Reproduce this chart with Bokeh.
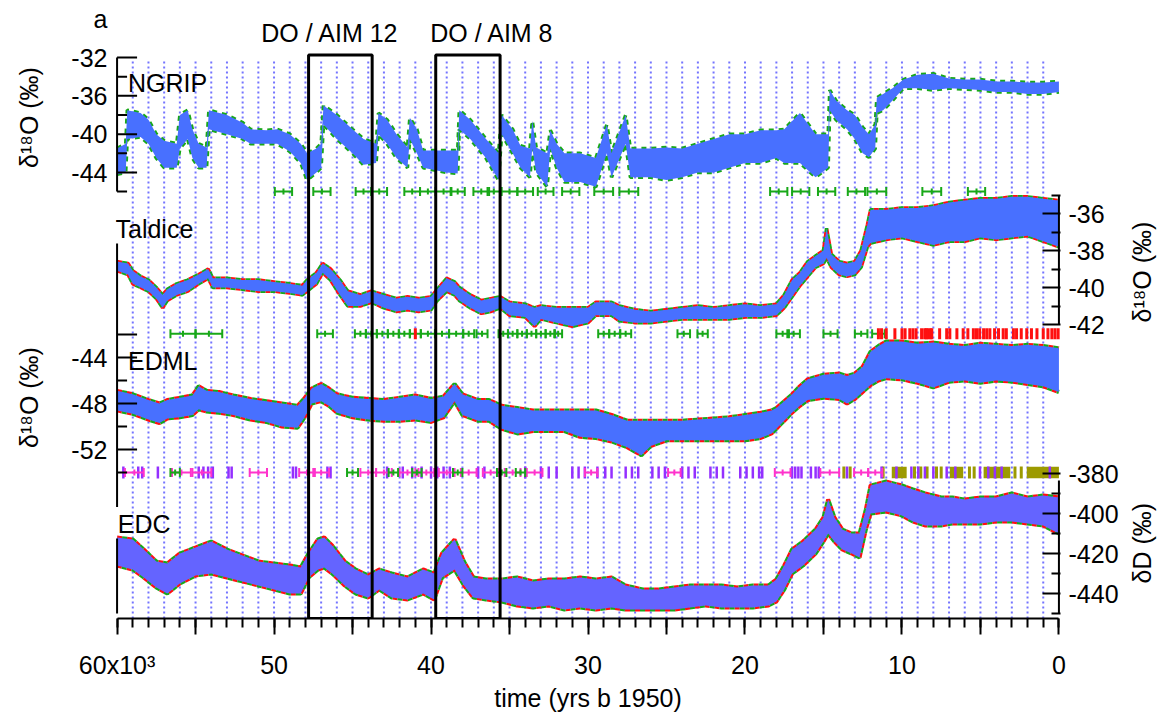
import numpy as np
from bokeh.plotting import figure
from bokeh.models import Range1d, LinearAxis, FixedTicker, CustomJSTickFormatter, Label
from bokeh.embed import file_html
from bokeh.resources import INLINE

# ---------------- data ----------------
# time axis in kyr before 1950
ngrip_age = [60.0, 59.45, 59.35, 58.5, 58.0, 57.5, 57.0, 56.2, 56.0, 55.5,
             55.2, 54.8, 54.3, 54.15, 53.0, 52.0, 51.5, 50.5, 49.8, 49.0,
             48.3, 47.9, 47.3, 47.0, 46.85, 46.0, 45.0, 44.3, 43.5, 43.35,
             42.8, 42.2, 41.5, 41.35, 40.9, 40.5, 39.0, 38.3, 38.2, 37.5,
             36.5, 35.7, 35.5, 34.8, 34.3, 33.7, 33.55, 33.3, 32.6, 32.4,
             32.0, 31.5, 30.5, 29.5, 28.8, 28.5, 27.6, 27.3, 26.0, 25.0,
             24.0, 23.0, 22.0, 21.0, 20.0, 19.0, 18.0, 17.5, 16.5, 15.5,
             14.7, 14.6, 14.2, 13.5, 13.0, 12.5, 12.1, 11.7, 11.6, 11.2,
             10.6, 9.9, 9.0, 8.0, 7.0, 6.0, 5.0, 4.0, 3.0, 2.0,
             1.0, 0.0]
ngrip_hi = [-41.5, -41.0, -37.5, -37.8, -38.5, -40.0, -40.7, -41.0, -38.0, -37.5,
            -39.5, -41.0, -41.4, -37.5, -38.0, -38.8, -39.5, -39.6, -39.5, -40.0,
            -41.0, -42.0, -41.5, -41.0, -37.0, -38.0, -39.5, -40.5, -41.0, -37.8,
            -38.5, -40.0, -41.4, -38.3, -39.5, -41.7, -41.7, -41.7, -37.5, -38.5,
            -40.5, -42.0, -38.0, -39.5, -41.2, -41.5, -38.6, -41.4, -42.0, -39.6,
            -41.0, -42.0, -42.0, -42.5, -39.0, -42.0, -38.0, -41.5, -41.5, -41.4,
            -41.5, -41.0, -40.5, -40.0, -40.0, -39.6, -39.6, -39.5, -37.8, -40.0,
            -40.0, -35.4, -36.5, -37.5, -38.0, -39.3, -40.0, -39.0, -36.2, -35.8,
            -35.2, -34.3, -33.8, -33.7, -34.2, -34.3, -34.3, -34.5, -34.5, -34.6,
            -34.6, -34.5]
ngrip_lo = [-44.2, -44.0, -40.5, -40.3, -41.0, -42.5, -43.5, -43.5, -41.5, -40.5,
            -42.5, -43.5, -43.5, -39.5, -40.0, -40.5, -41.0, -41.0, -41.0, -41.8,
            -43.0, -44.8, -44.0, -43.5, -39.0, -40.5, -42.0, -43.2, -43.0, -40.0,
            -41.0, -42.5, -43.5, -40.5, -42.0, -43.5, -44.0, -44.1, -39.5, -40.5,
            -42.5, -44.8, -40.0, -42.0, -43.5, -44.5, -41.5, -44.0, -45.5, -41.5,
            -43.5, -45.0, -45.0, -45.5, -42.0, -44.5, -41.0, -44.5, -44.5, -44.8,
            -44.5, -44.0, -44.0, -43.5, -43.0, -43.0, -42.5, -43.0, -43.0, -44.5,
            -43.5, -37.5, -38.5, -39.5, -40.5, -42.0, -42.4, -41.5, -37.8, -37.5,
            -36.5, -35.2, -35.2, -35.4, -35.2, -35.3, -35.4, -35.6, -35.6, -35.8,
            -35.8, -35.6]

taldice_age = [60.0, 59.3, 59.0, 58.5, 58.0, 57.5, 57.1, 56.8, 56.2, 55.5,
               54.8, 54.2, 53.9, 53.0, 52.0, 51.0, 50.0, 49.0, 48.2, 47.9,
               47.3, 46.9, 46.4, 45.8, 45.3, 44.5, 43.8, 43.0, 42.2, 41.5,
               40.8, 40.0, 39.6, 39.0, 38.5, 38.2, 37.5, 36.8, 36.2, 35.6,
               35.0, 34.0, 33.4, 33.0, 32.0, 31.0, 30.0, 29.5, 28.5, 28.0,
               27.0, 26.0, 25.0, 24.0, 23.0, 22.0, 21.0, 20.0, 19.0, 18.0,
               17.5, 17.0, 16.5, 16.0, 15.5, 15.0, 14.8, 14.5, 14.0, 13.5,
               13.0, 12.6, 12.2, 12.0, 11.0, 10.0, 9.0, 8.0, 7.0, 6.0,
               5.0, 4.0, 3.0, 2.0, 1.0, 0.0]
taldice_hi = [-38.6, -38.7, -39.1, -39.4, -39.6, -40.0, -40.4, -40.1, -39.8, -39.6,
              -39.3, -39.0, -39.5, -39.5, -39.6, -39.6, -39.7, -39.8, -39.9, -39.6,
              -39.2, -38.7, -39.0, -39.6, -40.2, -40.4, -40.2, -40.4, -40.6, -40.5,
              -40.6, -40.5, -40.1, -39.5, -39.7, -40.0, -40.4, -40.7, -40.6, -40.5,
              -40.8, -40.9, -41.1, -41.0, -41.1, -41.1, -41.1, -40.8, -40.8, -41.0,
              -41.2, -41.3, -41.2, -41.1, -41.0, -41.1, -41.0, -40.9, -41.0, -40.9,
              -40.4, -39.6, -39.2, -38.6, -38.3, -38.0, -36.8, -38.2, -38.6, -38.7,
              -38.6, -38.0, -36.6, -35.8, -35.8, -35.7, -35.7, -35.6, -35.4, -35.3,
              -35.2, -35.2, -35.1, -35.1, -35.2, -35.3]
taldice_lo = [-39.1, -39.3, -39.8, -40.0, -40.2, -40.6, -41.1, -40.7, -40.4, -40.2,
              -39.8, -39.5, -40.0, -40.0, -40.1, -40.2, -40.2, -40.3, -40.4, -40.2,
              -39.8, -39.2, -39.6, -40.4, -41.0, -41.0, -40.8, -41.1, -41.3, -41.2,
              -41.3, -41.2, -40.7, -40.2, -40.4, -40.7, -41.1, -41.4, -41.3, -41.1,
              -41.5, -41.6, -42.1, -41.7, -41.9, -42.1, -41.9, -41.5, -41.5, -41.8,
              -41.9, -41.9, -41.8, -41.7, -41.7, -41.7, -41.7, -41.6, -41.6, -41.5,
              -41.1, -40.5, -39.9, -39.4, -38.9, -38.7, -38.4, -38.9, -39.3, -39.4,
              -39.3, -38.9, -37.8, -37.6, -37.4, -37.3, -37.5, -37.7, -37.5, -37.5,
              -37.3, -37.4, -37.3, -37.2, -37.5, -37.8]

edml_age = [60.0, 59.0, 58.0, 57.3, 56.8, 56.0, 55.2, 54.8, 54.3, 53.5,
            52.6, 51.5, 50.5, 49.5, 48.5, 48.1, 47.6, 47.0, 46.5, 46.0,
            45.0, 44.0, 43.0, 42.0, 41.0, 40.0, 39.2, 38.5, 38.0, 37.0,
            36.3, 35.5, 34.5, 33.5, 32.5, 31.5, 30.5, 29.5, 28.5, 27.5,
            26.6, 26.0, 25.0, 24.0, 23.0, 22.0, 21.0, 20.0, 19.0, 18.3,
            18.0, 17.5, 17.0, 16.5, 16.0, 15.0, 14.0, 13.5, 13.0, 12.5,
            12.0, 11.5, 11.0, 10.0, 9.0, 8.0, 7.0, 6.0, 5.0, 4.0,
            3.0, 2.0, 1.0, 0.0]
edml_hi = [-46.9, -47.2, -47.7, -48.0, -47.7, -47.5, -47.3, -46.5, -46.9, -47.0,
           -47.3, -47.6, -47.8, -48.0, -48.2, -47.6, -46.7, -46.3, -46.7, -47.2,
           -47.5, -47.6, -47.7, -47.5, -47.3, -47.6, -47.4, -46.3, -47.2, -47.7,
           -47.7, -48.2, -48.4, -48.6, -48.6, -48.6, -48.6, -48.6, -49.0, -49.5,
           -49.5, -49.5, -49.5, -49.5, -49.4, -49.3, -49.2, -49.0, -48.8, -48.6,
           -48.4, -47.8, -47.2, -46.5, -45.9, -45.5, -45.4, -45.6, -45.4, -44.8,
           -43.5, -43.0, -42.6, -42.6, -42.8, -42.7, -42.9, -43.0, -42.8, -42.9,
           -43.0, -42.9, -43.0, -43.2]
edml_lo = [-48.6, -48.9, -49.4, -49.7, -49.3, -49.2, -49.0, -48.5, -48.7, -48.8,
           -49.0, -49.4, -49.6, -50.0, -50.1, -49.3, -48.0, -47.8, -48.2, -48.8,
           -49.2, -49.4, -49.5, -49.5, -49.4, -49.6, -49.2, -47.8, -49.0, -49.5,
           -49.5, -50.2, -50.6, -50.4, -50.4, -50.4, -50.9, -51.0, -51.3, -51.8,
           -52.5, -51.7, -51.2, -51.2, -51.2, -51.2, -51.2, -51.2, -51.0, -50.6,
           -50.2, -49.5, -48.8, -48.2, -47.7, -47.5, -47.6, -48.0, -47.6, -47.0,
           -46.4, -46.0, -45.8, -45.9, -46.2, -46.6, -46.1, -46.0, -46.2, -46.0,
           -46.1, -46.3, -46.5, -47.0]

edc_age = [60.0, 59.0, 58.3, 57.5, 56.8, 56.0, 55.0, 54.0, 53.0, 52.0,
           51.0, 50.0, 49.0, 48.3, 47.8, 47.2, 46.8, 46.3, 45.5, 44.8,
           44.0, 43.3, 42.5, 41.5, 40.5, 39.8, 39.3, 38.5, 37.9, 37.3,
           36.5, 35.5, 34.5, 33.5, 32.5, 31.5, 30.5, 29.5, 28.5, 27.6,
           26.5, 25.5, 24.5, 23.5, 22.5, 21.5, 20.5, 19.5, 18.5, 18.0,
           17.5, 17.0, 16.3, 15.5, 15.0, 14.7, 14.3, 13.8, 13.2, 12.7,
           12.3, 12.0, 11.0, 10.0, 9.3, 8.5, 7.5, 6.8, 6.0, 5.0,
           4.0, 3.0, 2.0, 1.0, 0.0]
edc_hi = [-412, -413, -418, -424, -425, -420, -417, -414, -418, -421,
          -424, -425, -426, -427, -420, -413, -412, -416, -424, -428,
          -431, -428, -430, -432, -428, -430, -420, -413, -424, -432,
          -433, -433, -432, -434, -433, -433, -432, -433, -432, -436,
          -438, -438, -437, -436, -436, -436, -437, -436, -436, -433,
          -426, -418, -414, -408, -402, -393, -402, -408, -410, -410,
          -398, -386, -384, -386, -388, -390, -392, -392, -393, -392,
          -392, -390, -392, -391, -392]
edc_lo = [-426, -428, -432, -437, -440, -435, -431, -430, -432, -434,
          -436, -438, -440, -440, -432, -428, -427, -430, -436, -440,
          -442, -438, -442, -443, -440, -443, -432, -428, -436, -442,
          -443, -444, -446, -447, -446, -448, -447, -448, -447, -448,
          -448, -448, -448, -447, -446, -447, -447, -447, -446, -444,
          -438, -430, -426, -420, -414, -410, -414, -418, -420, -422,
          -408, -400, -399, -401, -404, -406, -406, -405, -405, -405,
          -404, -404, -405, -406, -410]

# tie-point / age-marker rows (centre, half width in kyr)
ngrip_bar_c = [49.4, 46.95, 44.3, 43.3, 41.2, 40.2, 39.2, 38.3, 36.8, 36.0, 35.0, 34.0,
               32.7, 31.1, 29.0, 27.4, 17.85, 16.45, 14.8, 12.9, 11.6, 8.1, 5.25]
ngrip_bar_h = [0.55, 0.55, 0.5, 0.5, 0.5, 0.5, 0.5, 0.45, 0.5, 0.4, 0.5, 0.5,
               0.5, 0.55, 0.6, 0.6, 0.55, 0.55, 0.55, 0.55, 0.6, 0.6, 0.55]
taldice_bar_c = [55.8, 54.15, 46.75, 44.5, 43.8, 43.1, 42.4, 41.7, 41.0, 40.2, 39.3, 38.4,
                 37.6, 36.75, 35.4, 34.8, 34.2, 33.6, 33.0, 32.4, 31.9, 29.0, 28.3, 27.6,
                 23.9, 22.7, 17.6, 16.9, 14.55, 12.6, 11.5]
taldice_bar_h = [0.8, 0.85, 0.5, 0.35, 0.35, 0.35, 0.35, 0.35, 0.35, 0.45, 0.45, 0.45,
                 0.35, 0.35, 0.3, 0.3, 0.3, 0.3, 0.3, 0.3, 0.25, 0.35, 0.35, 0.35,
                 0.4, 0.33, 0.4, 0.4, 0.45, 0.4, 0.4]
taldice_red = [41.0, 11.5, 11.3, 11.0, 10.45, 10.0, 9.8, 9.5, 9.3, 9.1, 8.75, 8.55, 8.45,
               8.35, 8.2, 8.1, 7.6, 7.15, 6.95, 6.5, 6.1, 5.8, 5.45, 5.25, 5.05, 4.8, 4.6,
               4.4, 4.1, 3.85, 3.55, 3.35, 2.9, 2.7, 2.4, 2.05, 1.75, 1.4, 1.0, 0.7, 0.45,
               0.25, 0.05]
edml_pink_c = [58.9, 55.9, 54.6, 51.0, 47.9, 47.0, 44.0, 43.0, 41.5, 40.3, 39.0, 37.6,
               36.2, 34.8, 33.4, 29.8, 24.5, 17.6, 14.6, 12.6, 11.7]
edml_pink_h = [0.6, 0.6, 0.6, 0.55, 0.5, 0.5, 0.5, 0.5, 0.5, 0.5, 0.5, 0.5,
               0.5, 0.5, 0.5, 0.4, 0.4, 0.5, 0.6, 0.45, 0.45]
edml_green_c = [56.3, 45.0, 42.4, 40.9, 38.3, 35.5, 34.3]
edml_green_h = [0.3, 0.35, 0.3, 0.3, 0.3, 0.3, 0.3]
edml_purple = [59.6, 58.65, 58.4, 57.4, 54.8, 54.5, 54.2, 53.9, 52.9, 52.7, 48.8, 48.6,
               46.6, 46.4, 42.8, 41.8, 41.2, 40.6, 40.0, 39.6, 39.2, 38.8, 37.0, 36.6,
               34.0, 33.0, 32.5, 32.0, 31.0, 30.6, 30.2, 29.4, 28.9, 28.5, 27.6, 27.2,
               26.8, 25.9, 25.5, 25.1, 24.0, 23.6, 23.2, 22.2, 21.8, 21.4, 20.3, 19.9,
               19.5, 19.1, 18.9, 17.0, 16.8, 16.6, 16.4, 15.8, 15.5, 15.3, 13.5, 11.3,
               10.35, 9.4, 8.96, 8.54, 8.0, 7.15, 6.6, 5.03, 4.5, 4.08, 3.65, 0.58]
edml_olive_start = [10.65, 6.95, 4.8, 2.05]
edml_olive_end = [9.7, 6.1, 3.1, 0.0]
edml_olive_ticks = [13.7, 13.3, 11.2, 9.2, 8.8, 8.4, 7.8, 7.5, 5.7, 5.4, 2.8, 2.4]

do_start = [47.8, 39.7]
do_end = [43.75, 35.6]

x_tick_values = [60, 50, 40, 30, 20, 10, 0]
x_tick_labels = ["60x10³", "50", "40", "30", "20", "10", "0"]
ngrip_ticks = [-32, -36, -40, -44]
ngrip_minor = [-34, -38, -42, -46]
taldice_ticks = [-36, -38, -40, -42]
taldice_minor = [-35, -37, -39, -41]
edml_ticks = [-44, -48, -52]
edml_minor = [-46, -50, -54]
edc_ticks = [-380, -400, -420, -440]
edc_minor = [-390, -410, -430, -450]

for a, b, c in [(ngrip_age, ngrip_hi, ngrip_lo), (taldice_age, taldice_hi, taldice_lo),
                (edml_age, edml_hi, edml_lo), (edc_age, edc_hi, edc_lo)]:
    assert len(a) == len(b) == len(c), (len(a), len(b), len(c))

# ---------------- layout / style ----------------
FONT = "Liberation Sans"
FS = "25px"
BLUE = "#4870ff"
BLUE_EDC = "#6464ff"
RED = "#ff1010"
GREEN = "#18a818"
PINK = "#ff33cc"
PURPLE = "#9430ff"
OLIVE = "#9c9a00"
GRID = "#5c5cff"

FRAME_W = 945
FRAME_TOP, FRAME_BOTTOM = 0.0, 618.0        # screen px of the plot frame
H = FRAME_BOTTOM - FRAME_TOP
PX_PER_KYR = FRAME_W / 60.2
PANEL_SCALE = {                             # value, its screen y, px per unit
    "ngrip": (-32.0, 57.0, 9.58),
    "taldice": (-38.0, 250.0, 18.5),
    "edml": (-48.0, 403.0, 11.5),
    "edc": (-380.0, 473.0, 2.0),
}


def panel_range(name):
    v, y, k = PANEL_SCALE[name]
    return Range1d(start=v - (FRAME_BOTTOM - y) / k, end=v + (y - FRAME_TOP) / k)


def master(name, val):
    v, y, k = PANEL_SCALE[name]
    return round(FRAME_BOTTOM - (y - (val - v) * k), 1)


def scr(y):
    return round(FRAME_BOTTOM - y, 1)


p = figure(frame_width=FRAME_W, frame_height=int(H),
           min_border_left=115, min_border_right=113, min_border_top=0, min_border_bottom=97,
           x_range=Range1d(60.1, -0.1), y_range=Range1d(0, H),
           y_axis_location=None, output_backend="svg", toolbar_location=None)
p.extra_y_ranges = {n: panel_range(n) for n in PANEL_SCALE}
p.outline_line_color = None
p.background_fill_color = "white"
p.border_fill_color = "white"
p.xgrid.grid_line_color = None
p.ygrid.grid_line_color = None

# dotted vertical lines every kyr
gx = list(range(1, 60))
p.segment(x0=gx, x1=gx, y0=[0] * len(gx), y1=[scr(58)] * len(gx),
          line_color=GRID, line_width=2.0, line_dash="2 3", line_alpha=0.85)


def formatter(positions, texts):
    keys = [f"{q:.1f}" for q in positions]
    return CustomJSTickFormatter(args=dict(keys=keys, vals=list(texts)), code="""
        const i = keys.indexOf(Number(tick).toFixed(1));
        return i >= 0 ? vals[i] : "";
    """)


# bottom axis
xa = p.xaxis[0]
xa.bounds = (0, 60)
xa.ticker = FixedTicker(ticks=list(range(0, 61, 5)), minor_ticks=list(range(0, 61)))
xa.formatter = formatter(x_tick_values, x_tick_labels)
xa.axis_line_width = 2
xa.axis_line_color = "black"
xa.major_tick_in = 0
xa.major_tick_out = 16
xa.minor_tick_in = 0
xa.minor_tick_out = 9
xa.major_tick_line_width = 2
xa.minor_tick_line_width = 2
xa.major_label_text_font = FONT
xa.major_label_text_font_size = FS
xa.major_label_text_color = "black"
xa.major_label_standoff = 16
xa.axis_label = "time (yrs b 1950)"
xa.axis_label_text_font = FONT
xa.axis_label_text_font_size = FS
xa.axis_label_text_font_style = "normal"
xa.axis_label_text_color = "black"
xa.axis_label_standoff = 2


def text_axis(ax, tin, tmin, standoff, orientation=None):
    ax.axis_line_color = None
    ax.major_tick_in = tin
    ax.major_tick_out = 0
    ax.minor_tick_in = tmin
    ax.minor_tick_out = 0
    ax.major_tick_line_width = 2
    ax.minor_tick_line_width = 2
    ax.major_tick_line_color = "black"
    ax.minor_tick_line_color = "black"
    ax.major_label_text_font = FONT
    ax.major_label_text_font_size = FS
    ax.major_label_text_color = "black"
    ax.major_label_standoff = standoff
    if orientation is not None:
        ax.major_label_orientation = orientation


# left axis labels (NGRIP + EDML values and the panel letter); tick marks drawn below
lm = [master("ngrip", v) for v in ngrip_ticks] + [master("edml", v) for v in edml_ticks] + [scr(18)]
lt = [str(v) for v in ngrip_ticks] + [str(v) for v in edml_ticks] + ["a"]
la = LinearAxis(ticker=FixedTicker(ticks=lm, minor_ticks=[]), formatter=formatter(lm, lt))
text_axis(la, 0, 0, 8)
p.add_layout(la, "left")

# left axis titles (centred, reading upwards)
lt2 = [scr(117), scr(397)]
la2 = LinearAxis(ticker=FixedTicker(ticks=lt2, minor_ticks=[]),
                 formatter=formatter(lt2, ["δ¹⁸O (‰)", "δ¹⁸O (‰)"]))
text_axis(la2, 0, 0, 26, "vertical")
p.add_layout(la2, "left")

# right axis (Taldice + EDC)
rm = [master("taldice", v) for v in taldice_ticks] + [master("edc", v) for v in edc_ticks]
rt = [str(v) for v in taldice_ticks] + [str(v) for v in edc_ticks]
rn = [master("taldice", v) for v in taldice_minor] + [master("edc", v) for v in edc_minor]
ra = LinearAxis(ticker=FixedTicker(ticks=rm, minor_ticks=rn), formatter=formatter(rm, rt))
text_axis(ra, 18, 9, 8)
p.add_layout(ra, "right")

# right axis titles: reading upwards, text starts at the anchor (anchor = bottom end)
rt2 = [scr(322), scr(583)]
ra2 = LinearAxis(ticker=FixedTicker(ticks=rt2, minor_ticks=[]),
                 formatter=formatter(rt2, ["δ¹⁸O (‰)", "δD (‰)"]))
text_axis(ra2, 0, 0, 20, np.pi / 2)
p.add_layout(ra2, "right")


# ---------------- records ----------------
def record(name, age, hi, lo, fill, fringe, fw):
    for i, col in enumerate(fringe):
        for edge in (hi, lo):
            p.line(age, edge, y_range_name=name, line_color=col, line_width=fw,
                   line_dash="5 5", line_dash_offset=5 * i)
    p.varea(x=age, y1=hi, y2=lo, y_range_name=name, fill_color=fill)


record("ngrip", ngrip_age, ngrip_hi, ngrip_lo, BLUE, [GREEN], 3.5)
record("taldice", taldice_age, taldice_hi, taldice_lo, BLUE, [RED, GREEN], 3.5)
record("edml", edml_age, edml_hi, edml_lo, BLUE, [RED, GREEN], 4)
record("edc", edc_age, edc_hi, edc_lo, BLUE_EDC, [RED, GREEN], 4)


# ---------------- marker rows ----------------
def errbars(name, row, centre, half, color):
    c = np.array(centre, dtype=float)
    h = np.array(half, dtype=float)
    lo, hi = c - h, c + h
    y = [row] * len(c)
    p.segment(x0=lo, x1=hi, y0=y, y1=y, y_range_name=name, line_color=color, line_width=2)
    p.scatter(x=np.concatenate([lo, hi]), y=[row] * (2 * len(c)), marker="dash", angle=np.pi / 2,
              size=9, line_color=color, line_width=2, y_range_name=name)
    p.scatter(x=c, y=y, marker="dash", angle=np.pi / 2, size=6, line_color=color,
              line_width=2, y_range_name=name)


def ticks(name, row, xs, color, size=12, width=3):
    p.scatter(x=xs, y=[row] * len(xs), marker="dash", angle=np.pi / 2, size=size,
              line_color=color, line_width=width, y_range_name=name)


errbars("ngrip", -46, ngrip_bar_c, ngrip_bar_h, GREEN)
errbars("taldice", -42.5, taldice_bar_c, taldice_bar_h, GREEN)
ticks("taldice", -42.5, taldice_red, RED, 11, 3)
p.hbar(y=[-54] * len(edml_olive_start), left=edml_olive_start, right=edml_olive_end,
       height=1.0, fill_color=OLIVE, line_color=None, y_range_name="edml")
ticks("edml", -54, edml_olive_ticks, OLIVE, 12, 3)
ticks("edml", -54, edml_purple, PURPLE, 12, 2.5)
errbars("edml", -54, edml_pink_c, edml_pink_h, PINK)
errbars("edml", -54, edml_green_c, edml_green_h, GREEN)

# ---------------- DO / AIM boxes ----------------
p.quad(left=do_start, right=do_end, top=[scr(54.5)] * len(do_start), bottom=[0] * len(do_start),
       fill_color=None, line_color="black", line_width=3)

# ---------------- axis lines (with gaps) and left tick marks ----------------
p.segment(x0=[60, 60, 60], x1=[60, 60, 60],
          y0=[master("ngrip", -32), master("edml", -34.1), master("edc", -412.5)],
          y1=[master("ngrip", -46), master("edml", -57.0), master("edc", -450)],
          line_color="black", line_width=2)
p.segment(x0=[0, 0], x1=[0, 0],
          y0=[master("taldice", -35), master("edc", -383.5)],
          y1=[master("taldice", -42), master("edc", -450)],
          line_color="black", line_width=2)


def left_ticks(name, vals, length):
    n = len(vals)
    p.segment(x0=[60] * n, x1=[60 - length / PX_PER_KYR] * n, y0=list(vals), y1=list(vals),
              y_range_name=name, line_color="black", line_width=2)


left_ticks("ngrip", ngrip_ticks, 20)
left_ticks("ngrip", ngrip_minor, 10)
left_ticks("edml", edml_ticks + [-42], 20)
left_ticks("edml", edml_minor, 10)


# ---------------- texts inside the frame ----------------
def label(text, x, y, align="left"):
    p.add_layout(Label(x=x, y=y, text=text, text_font=FONT, text_font_size=FS,
                       text_align=align, text_baseline="middle", text_color="black"))


label("DO / AIM 12", 46.43, scr(32), "center")
label("DO / AIM 8", 36.11, scr(32), "center")
label("NGRIP", 59.3, scr(82))
label("Taldice", 60.1, scr(228))
label("EDML", 59.3, scr(360))
label("EDC", 59.95, scr(523))

open("out.html", "w").write(file_html(p, INLINE))
